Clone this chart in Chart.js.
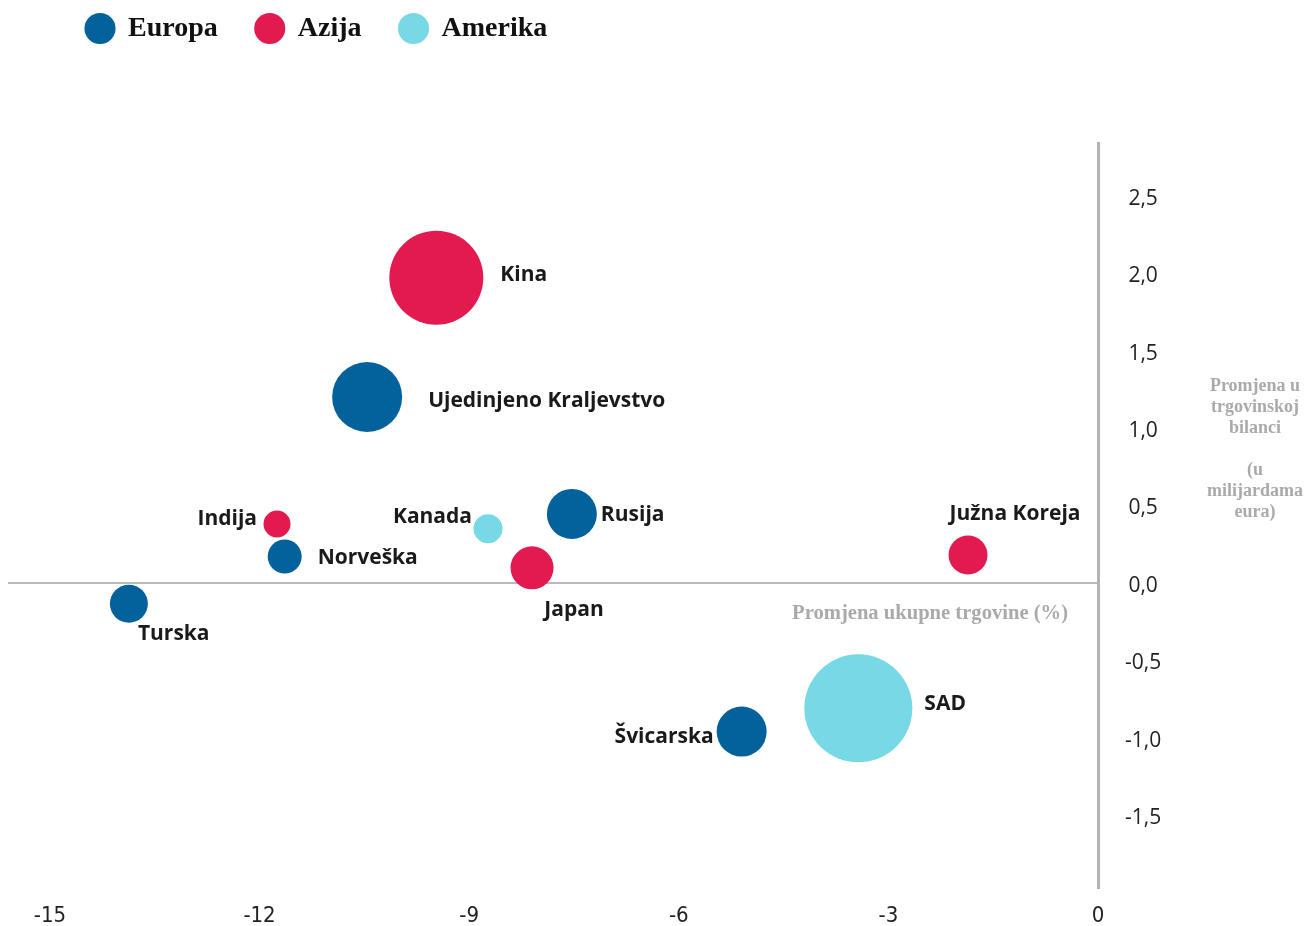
<!DOCTYPE html>
<html><head><meta charset="utf-8">
<script src="https://cdn.jsdelivr.net/npm/chart.js@4.4.1/dist/chart.umd.min.js"></script>
<style>html,body{margin:0;padding:0;background:#fff}#wrap{width:1307px;height:926px;position:relative}</style>
</head><body><div id="wrap"><canvas id="c"></canvas></div>
<script>
const groups = ['Europa', 'Azija', 'Amerika'];
const groupColors = ['#03629b', '#e31a50', '#76d9e5'];

const europaNames = ['Ujedinjeno Kraljevstvo', 'Norveška', 'Turska', 'Rusija', 'Švicarska'];
const europaX = [-10.46, -11.64, -13.87, -7.53, -5.10];
const europaY = [1.20, 0.17, -0.135, 0.445, -0.96];
const europaSize = [35, 17, 19, 25, 25];

const azijaNames = ['Kina', 'Indija', 'Japan', 'Južna Koreja'];
const azijaX = [-9.47, -11.75, -8.10, -1.86];
const azijaY = [1.97, 0.38, 0.097, 0.18];
const azijaSize = [47, 13.5, 21.5, 19.5];

const amerikaNames = ['Kanada', 'SAD'];
const amerikaX = [-8.73, -3.43];
const amerikaY = [0.35, -0.81];
const amerikaSize = [14.5, 54];

const xTicks = [-15, -12, -9, -6, -3, 0];
const yTicks = [-1.5, -1, -0.5, 0, 0.5, 1, 1.5, 2, 2.5];
const xTitle = 'Promjena ukupne trgovine (%)';
const yTitleLines = ['Promjena u', 'trgovinskoj', 'bilanci', '', '(u', 'milijardama', 'eura)'];

// label placement relative to the bubble: [textAlign, dx, dy]
const labelPlacement = {
  'Kina': ['left', 64, -3],
  'Ujedinjeno Kraljevstvo': ['left', 61, 4],
  'Indija': ['right', -20, -5],
  'Norveška': ['left', 33, 1],
  'Turska': ['left', 9, 30],
  'Kanada': ['right', -16, -12],
  'Rusija': ['left', 29, 1],
  'Japan': ['center', 42, 42],
  'Južna Koreja': ['center', 47, -41],
  'Švicarska': ['right', -28, 5],
  'SAD': ['left', 66, -4]
};

function pts(names, xs, ys, rs) {
  return names.map((n, i) => ({ x: xs[i], y: ys[i], r: rs[i], name: n }));
}

const datasets = [
  { label: groups[0], data: pts(europaNames, europaX, europaY, europaSize) },
  { label: groups[1], data: pts(azijaNames, azijaX, azijaY, azijaSize) },
  { label: groups[2], data: pts(amerikaNames, amerikaX, amerikaY, amerikaSize) }
].map((d, i) => Object.assign(d, {
  backgroundColor: groupColors[i], borderColor: groupColors[i], borderWidth: 0,
  hoverBorderWidth: 0
}));

const labelsPlugin = {
  id: 'bubbleLabels',
  afterLayout(chart) {
    chart.legend.left = 48;
    chart.legend.top = -23.5;
  },
  afterDatasetsDraw(chart) {
    const ctx = chart.ctx;
    ctx.save();
    ctx.font = 'bold 21px "Open Sans", Lato, sans-serif';
    ctx.fillStyle = '#1a1a1a';
    ctx.textBaseline = 'middle';
    chart.data.datasets.forEach((ds, di) => {
      const meta = chart.getDatasetMeta(di);
      meta.data.forEach((el, i) => {
        const name = ds.data[i].name;
        const p = labelPlacement[name] || ['left', 20, 0];
        ctx.textAlign = p[0];
        ctx.fillText(name, el.x + p[1], el.y + p[2]);
      });
    });
    const ys = chart.scales.y;
    const area = chart.chartArea;
    ctx.fillStyle = '#aaaaaa';
    ctx.font = 'bold 20.6px "Liberation Serif", "Times New Roman", serif';
    ctx.textAlign = 'right';
    ctx.fillText(xTitle, area.right - 30, ys.getPixelForValue(0) + 31);
    ctx.font = 'bold 18px "Liberation Serif", "Times New Roman", serif';
    ctx.textAlign = 'center';
    const cx = area.right + 157;
    const y0 = ys.getPixelForValue(0) - 197;
    yTitleLines.forEach((t, i) => { if (t) ctx.fillText(t, cx, y0 + i * 21); });
    ctx.restore();
  }
};

new Chart(document.getElementById('c'), {
  type: 'bubble',
  data: { datasets },
  plugins: [labelsPlugin],
  options: {
    responsive: true,
    maintainAspectRatio: false,
    animation: false,
    devicePixelRatio: 1,
    layout: { autoPadding: false, padding: { left: 8, top: 67, right: 0, bottom: 0 } },
    plugins: {
      tooltip: { enabled: false },
      legend: {
        display: true, position: 'top', align: 'start',
        labels: {
          usePointStyle: true, pointStyle: 'circle', boxWidth: 30, boxHeight: 22, padding: 38,
          color: '#111',
          font: { family: '"Liberation Serif", "Times New Roman", serif', size: 28, weight: 'bold' }
        }
      }
    },
    scales: {
      x: {
        type: 'linear', position: 'bottom', min: -15.6, max: 0,
        afterBuildTicks: (axis) => { axis.ticks = xTicks.map(v => ({ value: v })); },
        afterFit: (axis) => { axis.height = 38; axis.paddingLeft = 0; axis.paddingRight = 0; },
        grid: { display: false, drawTicks: false },
        border: { display: false },
        ticks: {
          padding: 17, color: '#222',
          font: { family: '"Liberation Sans Narrow", "DejaVu Sans Condensed", "Liberation Sans", sans-serif', size: 22, lineHeight: 1 },
          callback: (v) => String(v), maxRotation: 0, autoSkip: false
        }
      },
      y: {
        type: 'linear', position: 'right', min: -1.97, max: 2.84,
        afterBuildTicks: (axis) => { axis.ticks = yTicks.map(v => ({ value: v })); },
        afterFit: (axis) => { axis.width = 209; axis.paddingTop = 0; axis.paddingBottom = 0; },
        grid: {
          display: true, drawTicks: false, drawOnChartArea: true,
          color: (c) => (c.tick && c.tick.value === 0 ? '#b9b9b9' : 'rgba(0,0,0,0)'),
          lineWidth: 2
        },
        border: { display: true, color: '#b3b3b3', width: 3 },
        ticks: {
          padding: 27, crossAlign: 'center', color: '#222', labelOffset: 3,
          font: { family: '"Open Sans", sans-serif', size: 21 },
          callback: (v) => v.toFixed(1).replace('.', ','), autoSkip: false
        }
      }
    }
  }
});
</script>
</body></html>
